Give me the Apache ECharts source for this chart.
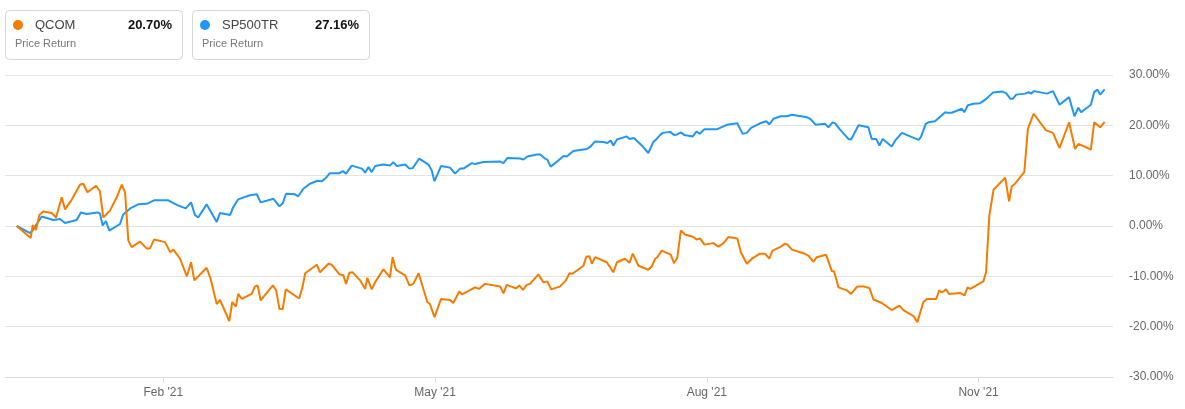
<!DOCTYPE html>
<html>
<head>
<meta charset="utf-8">
<script src="https://cdn.jsdelivr.net/npm/echarts@6/dist/echarts.min.js"></script>
<style>
html,body{margin:0;padding:0;background:#fff;}
#chart{width:1185px;height:409px;}
</style>
</head>
<body>
<div id="chart"></div>
<script>
// ---- data ----
const baseDate = '2020-12-10';           // day offsets below are counted from this date
const seriesNames = ['QCOM', 'SP500TR'];
const seriesSub = ['Price Return', 'Price Return'];

const qcomDays = [3.9,8.6,9.3,10.4,11.5,12.8,15.6,17.1,19.0,20.1,22.3,25.1,26.2,27.6,30.5,31.8,32.9,35.2,37.4,39.1,40.2,41.3,42.4,45.2,47.5,48.6,49.9,53.6,55.3,56.4,58.6,60.9,62.3,63.4,67.5,68.7,70.9,72.0,75.1,76.1,77.3,78.1,79.3,82.6,83.7,84.6,85.6,89.7,90.8,91.9,93.0,94.0,98.5,99.6,100.5,104.4,105.5,108.3,109.4,112.0,113.3,114.2,115.3,116.4,118.9,120.6,121.3,122.8,123.9,126.7,128.9,129.8,130.9,134.0,135.4,136.7,138.5,141.4,142.3,143.8,146.0,149.0,150.1,152.1,153.1,157.4,158.7,160.7,165.8,166.9,168.0,171.1,172.2,173.4,174.7,175.8,178.6,180.3,181.6,182.9,185.9,187.8,189.0,190.0,193.7,194.6,195.7,196.5,197.6,201.5,203.7,204.9,207.6,209.1,210.2,212.1,215.4,216.6,217.7,218.4,219.9,222.9,224.0,225.1,226.3,227.7,230.5,231.6,232.8,234.2,237.2,238.9,240.6,242.2,245.2,246.4,248.4,250.1,252.8,254.5,255.9,257.0,259.5,261.2,262.0,263.5,267.3,269.0,270.7,271.8,274.9,276.9,277.6,279.1,281.9,283.3,285.4,287.4,289.4,290.8,293.6,296.9,299.5,300.8,304.2,305.5,307.5,308.7,311.8,312.8,313.7,315.1,316.1,319.8,321.3,322.3,323.2,327.6,328.5,329.6,331.0,334.9,336.2,337.1,338.2,341.3,342.5,344.4,348.6,350.9,353.1,356.3,358.3,359.4,363.6,364.7,366.7,368.2];
const qcomValues = [0,-2.4,0.2,-0.8,2.2,2.9,2.6,1.7,5.7,3.3,5.2,8.2,8.4,6.7,8.0,6.9,1.7,3.1,5.7,8.2,6.7,-2.9,-4.2,-3.1,-4.5,-4.4,-2.7,-3.2,-5.2,-4.7,-6.5,-10.0,-7.2,-10.8,-8.3,-10.2,-15.5,-14.7,-18.9,-15.1,-16.0,-13.5,-14.5,-13.5,-12.0,-11.8,-14.8,-11.8,-12.8,-16.5,-16.5,-12.6,-14.4,-12.2,-9.4,-7.7,-9.2,-7.5,-7.7,-9.6,-9.8,-11.5,-9.3,-9.2,-10.8,-12.5,-10.3,-12.6,-11.2,-8.6,-10.2,-6.2,-8.7,-9.8,-11.8,-11.5,-9.4,-15.1,-15.5,-18.1,-14.5,-14.7,-15.3,-13.0,-13.6,-12.2,-12.5,-11.5,-12.0,-13.4,-11.7,-12.4,-11.8,-12.7,-11.7,-11.5,-9.6,-11.2,-11.0,-12.6,-12.0,-10.8,-9.4,-9.5,-7.9,-6.1,-6.0,-7.5,-6.2,-7.2,-9.2,-7.2,-6.5,-7.3,-5.5,-7.9,-8.7,-8.0,-6.5,-6.2,-4.9,-5.7,-7.4,-6.3,-0.9,-1.7,-2.2,-2.7,-2.5,-3.7,-3.4,-4.1,-3.4,-2.2,-2.5,-5.2,-7.5,-6.5,-5.5,-5.5,-6.5,-4.9,-4.2,-3.5,-3.7,-4.7,-5.4,-5.9,-7.1,-6.2,-5.7,-9.0,-9.0,-12.2,-12.8,-13.5,-12.0,-12.0,-12.3,-14.6,-15.3,-16.7,-15.8,-16.7,-17.9,-19.1,-15.1,-14.5,-14.5,-12.8,-13.2,-12.6,-13.5,-13.3,-13.8,-12.2,-12.5,-11.0,-9.2,2.1,7.2,9.6,4.9,7.9,8.4,10.7,19.3,22.3,19.0,18.5,15.5,20.6,15.3,16.3,15.2,20.6,19.6,20.70];

const spxDays = [3.9,8.4,9.5,10.6,12.3,16.2,18.4,20.1,24.0,25.4,27.4,30.9,31.8,32.7,33.8,34.9,38.5,39.6,41.9,44.6,47.5,49.9,54.7,57.5,60.5,62.3,63.6,64.7,67.5,70.9,72.0,75.4,76.3,78.1,82.0,84.3,85.6,89.9,91.9,93.0,94.1,97.1,98.2,99.9,102.1,104.6,106.1,107.5,108.8,112.0,113.1,114.2,116.1,119.5,120.6,121.7,122.8,123.9,126.7,128.9,130.0,131.2,134.0,135.4,136.5,138.7,141.8,142.9,143.8,146.0,149.0,150.7,152.4,153.5,156.3,157.4,160.2,165.8,166.9,168.2,172.5,173.6,174.9,178.1,179.2,180.8,181.6,182.7,184.7,187.0,188.1,190.3,194.8,195.9,197.6,200.4,201.7,202.8,203.7,204.9,208.2,209.1,210.6,213.2,215.4,217.1,218.2,219.4,220.3,222.7,224.0,225.1,226.3,227.4,230.3,231.6,232.5,234.2,238.3,241.7,245.2,247.0,248.4,249.8,252.8,254.9,255.9,257.3,259.8,261.8,263.5,268.5,269.6,271.5,274.6,275.7,277.1,278.0,279.4,282.4,283.3,285.8,289.1,290.2,291.7,292.8,293.9,296.9,298.1,300.3,305.9,306.7,308.3,309.2,311.4,314.8,315.6,317.0,320.4,321.2,322.4,324.3,326.5,328.2,330.8,334.0,335.2,336.6,337.5,338.6,341.6,342.7,343.5,344.6,348.9,350.9,353.1,356.3,358.1,359.4,360.3,363.6,364.7,365.8,366.7,368.2];
const spxValues = [0,-1.4,-0.7,0.4,1.9,1.2,1.4,0.6,1.2,2.7,2.4,2.7,2.5,0.1,1.0,-0.9,0.4,2.3,3.5,4.3,4.4,5.1,5.1,4.2,3.5,4.7,2.2,1.7,4.3,0.8,2.6,2.2,3.6,5.3,6.1,6.3,4.7,5.4,3.9,4.5,6.4,6.3,5.9,7.4,8.4,9.0,8.9,9.6,10.5,10.5,10.9,10.4,12.0,11.4,10.6,11.7,10.7,11.9,12.2,12.0,12.7,11.9,12.2,11.4,11.5,13.4,12.2,11.0,8.9,11.9,11.6,10.4,11.4,11.4,12.5,12.3,12.7,12.8,12.5,13.5,13.4,13.2,13.8,14.2,14.2,13.4,13.2,11.8,12.7,13.9,13.8,14.9,15.3,15.7,16.8,16.7,16.5,17.0,16.0,17.2,17.8,17.3,17.5,16.0,14.5,16.7,17.3,18.1,18.5,18.7,18.1,18.2,18.6,18.1,17.8,18.8,18.3,19.2,19.2,20.1,20.4,18.3,18.5,19.5,20.4,20.8,20.2,21.3,21.8,21.8,22.1,21.6,21.3,20.1,20.3,19.6,20.6,20.4,19.3,17.3,17.2,20.0,19.6,17.3,17.3,16.0,17.3,15.8,17.0,18.5,17.1,17.7,20.3,20.6,20.8,22.6,22.5,22.5,23.3,22.6,24.0,24.3,24.4,25.1,26.5,26.7,26.4,25.3,25.3,26.1,26.3,26.6,26.3,26.8,26.3,26.8,24.1,25.6,21.8,23.5,22.6,24.1,26.6,27.1,26.1,27.16];

const tickDates = ['2021-02-01', '2021-05-03', '2021-08-02', '2021-11-01'];
const tickLabels = ["Feb '21", "May '21", "Aug '21", "Nov '21"];
const axisEndDays = 371;

// ---- build ----
const DAY = 86400000;
const base = Date.parse(baseDate + 'T00:00:00Z');
const toPairs = (days, vals) => days.map((d, i) => [d, vals[i]]);
const tickDays = tickDates.map(d => Math.round((Date.parse(d + 'T00:00:00Z') - base) / DAY));
const colors = ['#F57C00', '#2196F3'];
const lastVals = [qcomValues[qcomValues.length - 1], spxValues[spxValues.length - 1]];
const FONT = '"Liberation Sans", Arial, sans-serif';

function legendCard(i, x) {
  return {
    type: 'group', left: x, top: 10,
    children: [
      { type: 'rect', shape: { x: 0.5, y: 0.5, width: 177, height: 49, r: 4 },
        style: { fill: '#fff', stroke: '#d6d6d6', lineWidth: 1 } },
      { type: 'circle', shape: { cx: 13, cy: 15, r: 5 }, style: { fill: colors[i] } },
      { type: 'text', x: 30, y: 15.5,
        style: { text: seriesNames[i], fill: '#444', font: '13px ' + FONT, textVerticalAlign: 'middle' } },
      { type: 'text', x: 167, y: 15.5,
        style: { text: lastVals[i].toFixed(2) + '%', fill: '#111', font: 'bold 13px ' + FONT, textAlign: 'right', textVerticalAlign: 'middle' } },
      { type: 'text', x: 10, y: 33.5,
        style: { text: seriesSub[i], fill: '#777', font: '11px ' + FONT, textVerticalAlign: 'middle' } }
    ]
  };
}

const chart = echarts.init(document.getElementById('chart'), null, { renderer: 'canvas' });
chart.setOption({
  animation: false,
  backgroundColor: '#fff',
  graphic: [legendCard(0, 5), legendCard(1, 192)],
  grid: { left: 5, right: 72, top: 75, bottom: 32, containLabel: false },
  xAxis: {
    type: 'value',
    min: 0,
    max: axisEndDays,
    axisLine: { show: true, onZero: false, lineStyle: { color: '#dcdcdc', width: 1 } },
    axisTick: { show: true, customValues: tickDays, length: 6, lineStyle: { color: '#dcdcdc' } },
    axisLabel: {
      customValues: tickDays,
      margin: 10,
      color: '#666',
      fontSize: 12,
      fontFamily: FONT,
      formatter: function (v) {
        const idx = tickDays.indexOf(Math.round(v));
        return idx >= 0 ? tickLabels[idx] : '';
      }
    },
    splitLine: { show: false }
  },
  yAxis: {
    type: 'value',
    position: 'right',
    min: -30, max: 30, interval: 10,
    axisLine: { show: false },
    axisTick: { show: false },
    axisLabel: {
      margin: 16, color: '#666', fontSize: 12, fontFamily: FONT,
      formatter: v => v.toFixed(2) + '%'
    },
    splitLine: { lineStyle: { color: '#e3e3e3', width: 1 } }
  },
  series: [
    { name: seriesNames[1], type: 'line', data: toPairs(spxDays, spxValues), showSymbol: false,
      lineStyle: { color: colors[1], width: 2 }, itemStyle: { color: colors[1] }, z: 2 },
    { name: seriesNames[0], type: 'line', data: toPairs(qcomDays, qcomValues), showSymbol: false,
      lineStyle: { color: colors[0], width: 2 }, itemStyle: { color: colors[0] }, z: 3 }
  ]
});
</script>
</body>
</html>
